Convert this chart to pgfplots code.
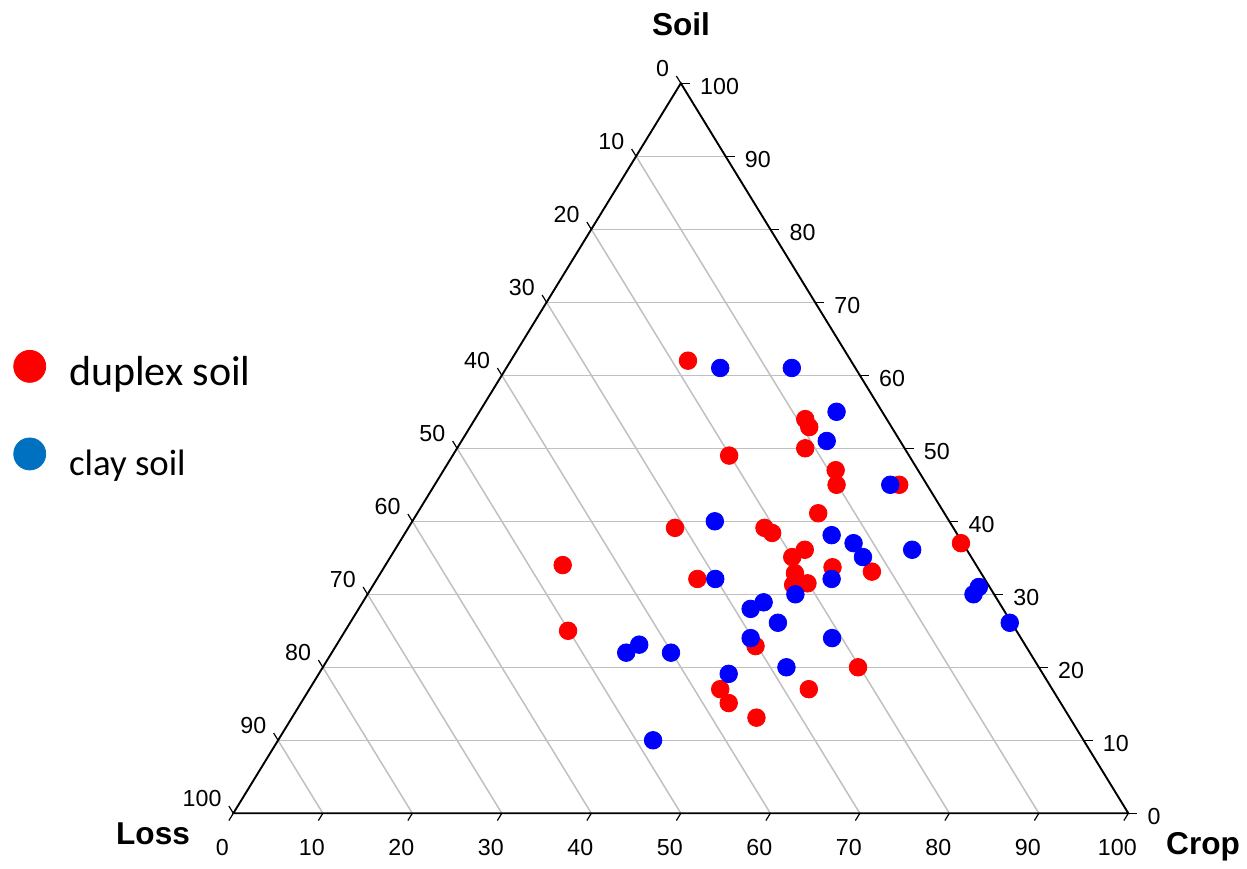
\documentclass[border=0pt]{standalone}
\usepackage{fontspec}
\setmainfont{Liberation Sans}
\newfontfamily\calibri{Carlito}
\usepackage{pgfplots}
\pgfplotsset{compat=1.18}
\usepackage{pgfplotstable}
\usetikzlibrary{calc}
\definecolor{gridgray}{RGB}{192,192,192}
\definecolor{legblue}{RGB}{0,112,192}
\newcommand\tickfont{\fontsize{11.6}{13}\selectfont}
\newcommand\titlefont{\bfseries\fontsize{15.8}{18}\selectfont}

% ternary values: crop, soil (loss = 100 - crop - soil)
\pgfplotstableread{
crop soil
19.8 62.0
30.9 49.0
29.8 39.1
39.8 39.1
41.0 38.4
36.9 54.0
37.9 52.9
38.9 50.0
43.8 47.0
44.9 45.0
51.9 45.0
44.8 41.1
62.8 37.0
45.8 36.1
44.9 35.1
19.8 34.0
35.8 32.1
50.1 33.7
54.8 33.1
46.3 32.9
46.9 31.3
48.4 31.5
24.9 25.0
46.9 22.9
59.8 20.0
45.9 17.0
47.8 15.1
51.9 13.1
55.8 17.0
}\duplex

\pgfplotstableread{
crop soil
23.9 61.0
31.9 61.0
39.9 55.0
40.8 51.0
50.9 45.0
33.8 40.0
47.8 38.1
50.8 37.0
52.8 35.1
57.8 36.1
37.8 32.1
44.8 28.9
43.8 28.0
47.8 26.1
50.8 32.1
47.8 30.0
67.8 31.0
67.7 30.0
73.7 26.1
33.8 23.1
32.9 22.0
37.9 22.0
45.8 24.0
54.9 24.0
51.8 20.0
45.8 19.1
41.9 10.0
}\clay

\begin{document}
\begin{tikzpicture}
\begin{axis}[
  x=4.475pt, y=3.65pt,
  xmin=0, xmax=100, ymin=0, ymax=100,
  hide axis, clip=false,
  legend style={at={(axis cs:-24.58,63.47)}, anchor=north west,
    draw=none, fill=none, inner sep=0pt, outer sep=0pt,
    row sep=24.5pt, column sep=11.5pt,
    cells={anchor=base west},
    nodes={inner sep=0pt, outer sep=0pt}},
]
\coordinate (A) at (axis cs:0,0);
\coordinate (B) at (axis cs:100,0);
\coordinate (C) at (axis cs:50,100);
\coordinate (BL) at (axis cs:-26.07,-7.63);
\coordinate (TR) at (axis cs:113.26,111.41);

% soil grid (horizontal)
\draw[gridgray, line width=0.75pt]
  (axis cs:5,10) -- (axis cs:95,10)
  (axis cs:10,20) -- (axis cs:90,20)
  (axis cs:15,30) -- (axis cs:85,30)
  (axis cs:20,40) -- (axis cs:80,40)
  (axis cs:25,50) -- (axis cs:75,50)
  (axis cs:30,60) -- (axis cs:70,60)
  (axis cs:35,70) -- (axis cs:65,70)
  (axis cs:40,80) -- (axis cs:60,80)
  (axis cs:45,90) -- (axis cs:55,90);
% loss grid
\draw[gridgray, line width=0.75pt]
  (axis cs:5,10) -- (axis cs:10,0)
  (axis cs:10,20) -- (axis cs:20,0)
  (axis cs:15,30) -- (axis cs:30,0)
  (axis cs:20,40) -- (axis cs:40,0)
  (axis cs:25,50) -- (axis cs:50,0)
  (axis cs:30,60) -- (axis cs:60,0)
  (axis cs:35,70) -- (axis cs:70,0)
  (axis cs:40,80) -- (axis cs:80,0)
  (axis cs:45,90) -- (axis cs:90,0);
\draw[line width=0.95pt] (axis cs:0,0) -- (axis cs:100,0) -- (axis cs:50,100) -- cycle;

\addplot[only marks, mark=*, mark size=4.4pt, color=red, forget plot]
  table[x expr=\thisrow{crop}+0.5*\thisrow{soil}, y=soil] {\duplex};
\addplot[only marks, mark=*, mark size=4.4pt, color=blue, forget plot]
  table[x expr=\thisrow{crop}+0.5*\thisrow{soil}, y=soil] {\clay};

\addlegendimage{legend image code/.code={\fill[red] (0pt,9.6pt) circle (8pt);}}
\addlegendentry{\calibri\fontsize{21}{24}\selectfont duplex soil}
\addlegendimage{legend image code/.code={\fill[legblue] (0pt,10.6pt) circle (8pt);}}
\addlegendentry{\calibri\fontsize{18.4}{22}\selectfont clay soil}

\node[anchor=base, inner sep=0pt, font=\titlefont] at (axis cs:50.02,106.6) {Soil};
\node[anchor=base, inner sep=0pt, font=\titlefont] at (axis cs:-8.97,-4.34) {Loss};
\node[anchor=base, inner sep=0pt, font=\titlefont] at (axis cs:108.35,-5.7) {Crop};
\end{axis}

\foreach \k in {0,...,10}{
  \pgfmathtruncatemacro\v{10*\k}
  \pgfmathtruncatemacro\w{100-10*\k}
  \path ($(A)!\k/10!(C)$) coordinate (L);
  \path ($(B)!\k/10!(C)$) coordinate (R);
  \path ($(A)!\k/10!(B)$) coordinate (D);
  \draw[line width=0.6pt] (L) -- ++(-2.22pt,3.63pt);
  \node[anchor=east, inner sep=0pt, font=\tickfont] at ([shift={(-5.75pt,7.25pt)}]L) {\w};
  \draw[line width=0.6pt] (R) -- ++(4.5pt,0pt);
  \node[anchor=west, inner sep=0pt, font=\tickfont] at ([shift={(9.5pt,-1.5pt)}]R) {\v};
  \draw[line width=0.6pt] (D) -- ++(-2.22pt,-3.63pt);
  \node[anchor=center, inner sep=0pt, font=\tickfont] at ([shift={(-5.5pt,-17.25pt)}]D) {\v};
}
\pgfresetboundingbox
\path (BL) rectangle (TR);
\end{tikzpicture}
\end{document}
